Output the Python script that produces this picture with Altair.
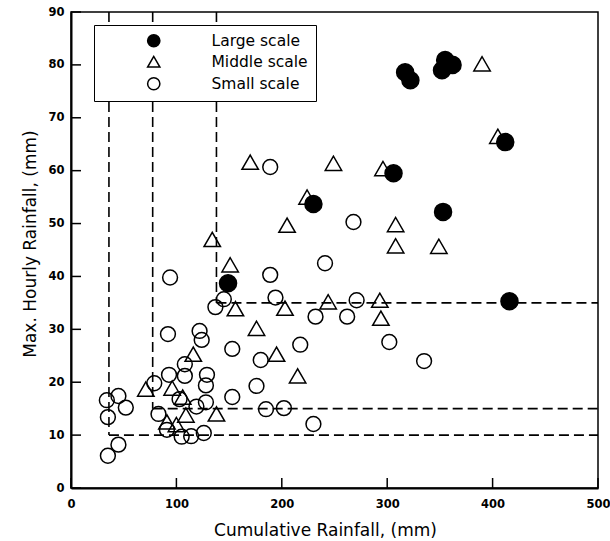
import altair as alt
import pandas as pd

categories = ["Large scale", "Middle scale", "Small scale"]

large_x = [149, 230, 306, 317, 322, 352, 355, 362, 353, 412, 416]
large_y = [38.7, 53.7, 59.5, 78.6, 77.1, 79.0, 80.9, 80.0, 52.2, 65.4, 35.3]

middle_x = [390, 405, 249, 296, 224, 308, 308, 349, 170, 205, 134, 151, 156, 203,
            244, 293, 294, 176, 195, 116, 215, 71, 96, 106, 109, 138, 91, 100]
middle_y = [80.2, 66.5, 61.4, 60.4, 55.0, 49.8, 45.8, 45.7, 61.6, 49.7, 47.0, 42.2, 33.9, 34.0,
            35.2, 35.5, 32.1, 30.2, 25.3, 25.3, 21.2, 18.7, 18.9, 17.2, 13.8, 14.0, 12.5, 12.0]

small_x = [94, 189, 145, 137, 194, 241, 268, 189, 271, 232, 262, 217.5, 302, 335, 230,
           92, 122, 124, 153, 180, 108, 93, 108, 129, 128, 176, 79, 103, 128, 119, 153,
           34, 45, 52, 35, 185, 202, 83, 91, 105, 114, 126, 45, 35]
small_y = [39.8, 40.3, 35.7, 34.2, 36.0, 42.5, 50.3, 60.7, 35.5, 32.4, 32.4, 27.1, 27.6, 24.0, 12.1,
           29.1, 29.7, 28.0, 26.3, 24.2, 23.4, 21.4, 21.2, 21.4, 19.4, 19.3, 19.8, 16.8, 16.2, 15.4, 17.2,
           16.6, 17.4, 15.2, 13.4, 14.9, 15.1, 14.0, 11.0, 9.7, 9.8, 10.4, 8.2, 6.1]

# threshold lines (L-shaped dashed boundaries)
thresh_x = [36, 77.5, 138]
thresh_y = [10, 15, 35]
x_max = 500
y_max = 90

x_ticks = [0, 100, 200, 300, 400, 500]
y_ticks = [0, 10, 20, 30, 40, 50, 60, 70, 80, 90]

X_TITLE = "Cumulative Rainfall, (mm)"
Y_TITLE = "Max. Hourly Rainfall, (mm)"
FONT = "DejaVu Sans"
W, H = 527, 476

df = pd.concat([
    pd.DataFrame({"x": large_x, "y": large_y, "scale": categories[0]}),
    pd.DataFrame({"x": middle_x, "y": middle_y, "scale": categories[1]}),
    pd.DataFrame({"x": small_x, "y": small_y, "scale": categories[2]}),
], ignore_index=True)

thr = pd.DataFrame({"x": thresh_x, "y": thresh_y, "top": [y_max] * 3, "right": [x_max] * 3})

xscale = alt.Scale(domain=[0, x_max], nice=False, zero=False)
yscale = alt.Scale(domain=[0, y_max], nice=False, zero=False)

x_axis = alt.Axis(values=x_ticks, ticks=False, tickSize=0, grid=False, labelFlush=False,
                  labelFont=FONT, labelFontSize=11.5, labelFontWeight="bold", labelColor="black",
                  labelPadding=10, domainColor="black", domainWidth=2,
                  titleFont=FONT, titleFontSize=17, titleFontWeight="normal", titleColor="black",
                  titleX=254, titleY=47, titleAlign="center", titleBaseline="alphabetic")
y_axis = alt.Axis(values=y_ticks, ticks=False, tickSize=0, grid=False, labelFlush=False,
                  labelFont=FONT, labelFontSize=11.5, labelFontWeight="bold", labelColor="black",
                  labelPadding=7, labelBaseline="middle", domainColor="black", domainWidth=2,
                  titleFont=FONT, titleFontSize=17, titleFontWeight="normal", titleColor="black",
                  titleX=-36, titleY=231.5, titleAngle=270, titleAlign="center",
                  titleBaseline="alphabetic")

legend = alt.Legend(title=None, orient="none", legendX=23, legendY=13,
                    strokeColor="black", fillColor="white", padding=8,
                    symbolOffset=44, labelOffset=50, labelFont=FONT, labelFontSize=15.5,
                    labelColor="black", rowPadding=3, symbolSize=150,
                    symbolStrokeColor="black", symbolStrokeWidth=1.5)

shape_enc = alt.Shape("scale:N", scale=alt.Scale(domain=categories,
                      range=["circle", "triangle-up", "circle"]), legend=legend)
fill_enc = alt.Fill("scale:N", scale=alt.Scale(domain=categories,
                    range=["black", "transparent", "transparent"]), legend=legend)
stroke_enc = alt.Stroke("scale:N", scale=alt.Scale(domain=categories,
                        range=["black", "black", "black"]), legend=legend)

base = alt.Chart(df).encode(
    x=alt.X("x:Q", scale=xscale, axis=x_axis, title=X_TITLE),
    y=alt.Y("y:Q", scale=yscale, axis=y_axis, title=Y_TITLE),
    shape=shape_enc,
    fill=fill_enc,
    stroke=stroke_enc,
)

def pts(cat, size):
    return base.transform_filter(alt.datum.scale == cat).mark_point(
        size=size, strokeWidth=1.5, opacity=1, filled=False)

small_layer = pts("Small scale", 220)
mid_layer = pts("Middle scale", 270)
large_layer = pts("Large scale", 290)

dash = [10, 5]
vlines = alt.Chart(thr).mark_rule(color="black", strokeWidth=1.6, strokeDash=dash).encode(
    x=alt.X("x:Q", scale=xscale, title=X_TITLE),
    y=alt.Y("top:Q", scale=yscale, title=Y_TITLE),
    y2="y:Q",
)
hlines = alt.Chart(thr).mark_rule(color="black", strokeWidth=1.6, strokeDash=dash).encode(
    y=alt.Y("y:Q", scale=yscale, title=Y_TITLE),
    x=alt.X("x:Q", scale=xscale, title=X_TITLE),
    x2="right:Q",
)

xt = alt.Chart(pd.DataFrame({"x": x_ticks})).mark_rule(color="black", strokeWidth=1.5).encode(
    x=alt.X("x:Q", scale=xscale, title=X_TITLE),
    y=alt.value(H), y2=alt.value(H - 10),
)
yt = alt.Chart(pd.DataFrame({"y": y_ticks})).mark_rule(color="black", strokeWidth=1.5).encode(
    y=alt.Y("y:Q", scale=yscale, title=Y_TITLE),
    x=alt.value(0), x2=alt.value(10),
)

chart = alt.layer(vlines, hlines, xt, yt, small_layer, mid_layer, large_layer).properties(
    width=W, height=H,
    autosize=alt.AutoSizeParams(type="none"),
    padding={"left": 71, "top": 12, "right": 12, "bottom": 53},
    background="white",
).configure_view(stroke="black", strokeWidth=1.5)

chart.save("out.html", embed_options={"renderer": "svg", "actions": False})
